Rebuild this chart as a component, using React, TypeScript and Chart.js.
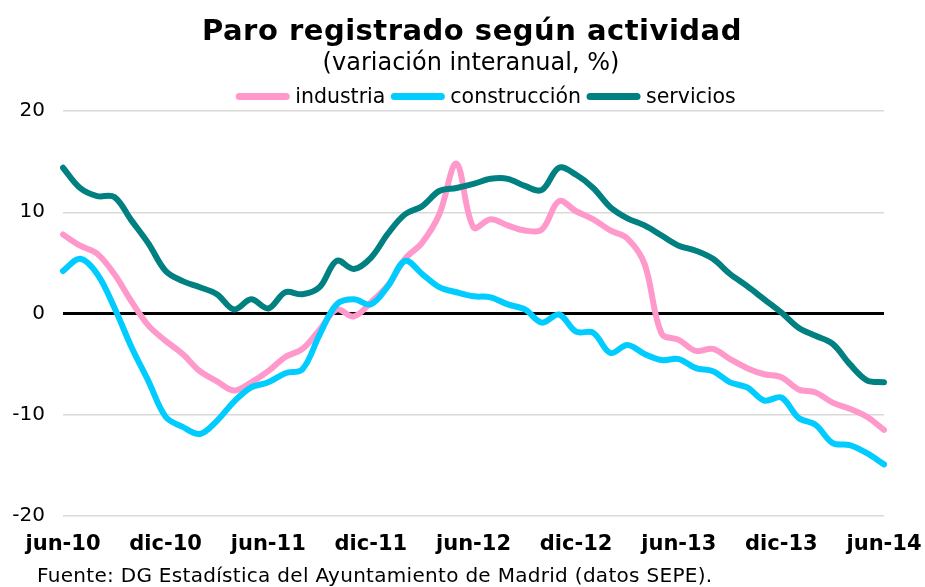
import React, { useEffect, useRef } from "react";
import { Chart, registerables } from "chart.js";
Chart.register(...registerables);

const monthNames = ["ene", "feb", "mar", "abr", "may", "jun", "jul", "ago", "sep", "oct", "nov", "dic"];
const labels: string[] = [];
for (let i = 0; i < 49; i++) {
  const m = (5 + i) % 12;
  const y = 10 + Math.floor((5 + i) / 12);
  labels.push(`${monthNames[m]}-${y}`);
}

const industria = [7.8, 6.7, 5.9, 3.9, 1.2, -1.2, -2.7, -4.0, -5.7, -6.7, -7.6, -6.8, -5.7, -4.3, -3.5, -1.6, 0.4, -0.3, 1.1, 2.8, 5.4, 7.0, 9.8, 14.8, 8.5, 9.3, 8.7, 8.2, 8.3, 11.1, 10.1, 9.3, 8.2, 7.4, 4.9, -2.0, -2.6, -3.7, -3.5, -4.5, -5.4, -6.0, -6.3, -7.5, -7.8, -8.8, -9.4, -10.2, -11.5];
const construccion = [4.2, 5.4, 3.9, 0.6, -3.3, -6.7, -10.2, -11.2, -11.9, -10.6, -8.7, -7.3, -6.8, -5.9, -5.5, -2.1, 0.9, 1.4, 0.9, 2.7, 5.2, 3.9, 2.6, 2.1, 1.7, 1.6, 0.9, 0.4, -0.9, -0.1, -1.8, -1.9, -3.9, -3.1, -4.0, -4.6, -4.5, -5.4, -5.7, -6.8, -7.3, -8.6, -8.3, -10.3, -11.0, -12.8, -13.0, -13.8, -14.9];
const servicios = [14.4, 12.4, 11.6, 11.5, 9.2, 6.9, 4.2, 3.2, 2.6, 1.9, 0.4, 1.4, 0.5, 2.1, 1.9, 2.6, 5.2, 4.4, 5.5, 7.9, 9.8, 10.6, 12.1, 12.4, 12.8, 13.3, 13.3, 12.6, 12.2, 14.4, 13.7, 12.4, 10.5, 9.4, 8.7, 7.7, 6.7, 6.2, 5.4, 3.9, 2.7, 1.4, 0.1, -1.4, -2.2, -3.0, -5.0, -6.6, -6.8];

const seriesNames = ["industria", "construcción", "servicios"];
const seriesColors = ["#FF99CC", "#00CCFF", "#008080"];

const titleText = "Paro registrado según actividad";
const subtitleText = "(variación interanual, %)";
const footerText = "Fuente: DG Estadística del Ayuntamiento de Madrid (datos SEPE).";

const FONT = "'DejaVu Sans', Verdana, sans-serif";

const textPlugin = {
  id: "textPlugin",
  afterDraw(chart: any) {
    const ctx = chart.ctx as any;
    ctx.save();
    ctx.fillStyle = "#000";
    ctx.textAlign = "center";
    ctx.textBaseline = "alphabetic";
    ctx.font = `bold 29px ${FONT}`;
    ctx.letterSpacing = "0.5px";
    ctx.fillText(titleText, 472, 40);
    ctx.letterSpacing = "0px";
    ctx.font = `24px ${FONT}`;
    ctx.fillText(subtitleText, 471, 70);

    // legend
    ctx.font = `20.5px ${FONT}`;
    const lineLen = 53;
    const gap = 6;
    let total = 0;
    const widths = seriesNames.map((n: string) => ctx.measureText(n).width);
    widths.forEach((w: number, i: number) => {
      total += lineLen + gap + w + (i < widths.length - 1 ? gap : 0);
    });
    let x = 486 - total / 2;
    ctx.textAlign = "left";
    seriesNames.forEach((n, i) => {
      ctx.strokeStyle = seriesColors[i];
      ctx.lineWidth = 7;
      ctx.lineCap = "round";
      ctx.beginPath();
      ctx.moveTo(x + 3, 96.5);
      ctx.lineTo(x + lineLen - 3, 96.5);
      ctx.stroke();
      x += lineLen + gap;
      ctx.fillStyle = "#000";
      ctx.fillText(n, x, 103);
      x += widths[i] + gap;
    });

    ctx.font = `20px ${FONT}`;
    ctx.letterSpacing = "0.3px";
    ctx.fillText(footerText, 37, 582);
    ctx.letterSpacing = "0px";
    ctx.restore();
  },
};

export default function App() {
  const ref = useRef<HTMLCanvasElement | null>(null);
  useEffect(() => {
    if (!ref.current) return;
    const chart = new Chart(ref.current, {
      type: "line",
      data: {
        labels,
        datasets: [
          { label: seriesNames[0], data: industria, borderColor: seriesColors[0], backgroundColor: seriesColors[0], order: 3 },
          { label: seriesNames[1], data: construccion, borderColor: seriesColors[1], backgroundColor: seriesColors[1], order: 2 },
          { label: seriesNames[2], data: servicios, borderColor: seriesColors[2], backgroundColor: seriesColors[2], order: 1 },
        ].map((d) => ({
          ...d,
          borderWidth: 6,
          pointRadius: 0,
          pointHoverRadius: 0,
          tension: 0.35,
          borderCapStyle: "round" as const,
          borderJoinStyle: "round" as const,
          fill: false,
        })),
      },
      options: {
        animation: false,
        responsive: true,
        maintainAspectRatio: false,
        devicePixelRatio: 1,
        layout: { padding: { top: 111, left: 0, right: 41, bottom: 31 } },
        plugins: {
          legend: { display: false },
          title: { display: false },
          tooltip: { enabled: false },
        },
        scales: {
          x: {
            afterFit: (s: any) => {
              s.height = 40;
              s.paddingLeft = 0;
              s.paddingRight = 0;
            },
            grid: { display: false, drawTicks: false },
            border: { display: false },
            ticks: {
              autoSkip: false,
              maxRotation: 0,
              minRotation: 0,
              padding: 16,
              color: "#000",
              font: { family: FONT, size: 21, weight: "bold" },
              callback: (_v: any, i: number) => (i % 6 === 0 ? labels[i] : ""),
            },
          },
          y: {
            min: -20,
            max: 20,
            afterFit: (s: any) => {
              s.width = 63;
              s.paddingTop = 0;
              s.paddingBottom = 0;
            },
            grid: {
              drawTicks: false,
              color: (c: any) => (c.tick && c.tick.value === 0 ? "#000000" : "#d9d9d9"),
              lineWidth: (c: any) => (c.tick && c.tick.value === 0 ? 3 : 1.5),
            },
            border: { display: false },
            ticks: {
              stepSize: 10,
              padding: 18,
              color: "#000",
              font: { family: FONT, size: 20 },
            },
          },
        },
      },
      plugins: [textPlugin],
    });
    return () => chart.destroy();
  }, []);
  return (
    <div style={{ position: "absolute", left: 0, top: 0, width: 925, height: 587 }}>
      <canvas ref={ref} />
    </div>
  );
}
